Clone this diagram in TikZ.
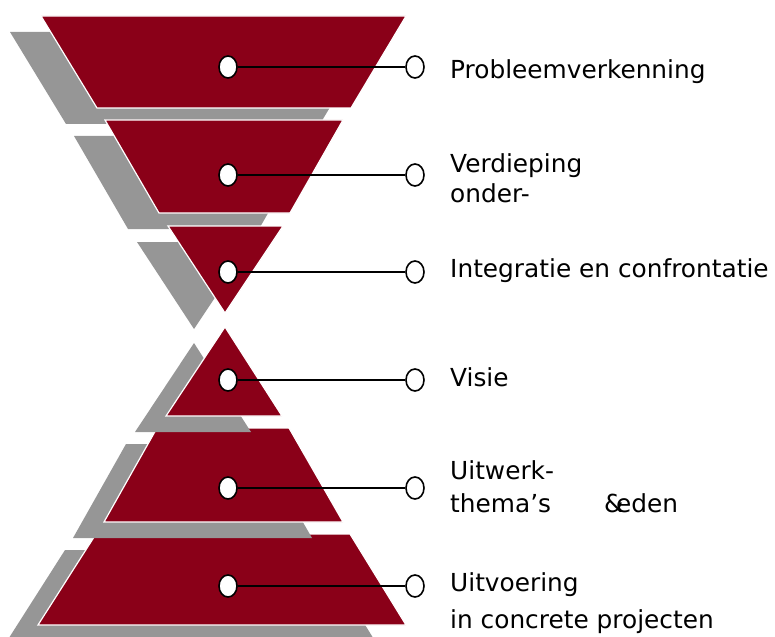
\documentclass[tikz,border=0pt]{standalone}
\usepackage{fontspec}
\setmainfont{DejaVu Sans}
\usetikzlibrary{shapes.geometric}
\definecolor{dkred}{RGB}{138,0,24}
\definecolor{shgrey}{RGB}{150,150,150}
\newcommand\lblfont{\fontsize{24.9pt}{30pt}\selectfont}
\tikzset{
  redpiece/.style={fill=dkred, draw=white, line width=1.2bp, line join=miter},
  shadowpiece/.style={fill=shgrey, shift={(-31,16)}},
  dotmark/.style={ellipse, draw=black, fill=white, line width=1.6bp,
    minimum width=18bp, minimum height=22bp, inner sep=0pt},
  conn/.style={draw=black, line width=1.3bp},
  lbl/.style={anchor=base west, font=\lblfont, inner sep=0pt, text=black}
}
\begin{document}
\begin{tikzpicture}[x=1bp,y=-1bp]
\useasboundingbox (0,0) rectangle (775,637);
\clip (0,0) rectangle (775,637);
% funnel (top to bottom)
\fill[shadowpiece] (41,16) -- (406,16) -- (351,108) -- (97,108) -- cycle;
\path[redpiece] (41,16) -- (406,16) -- (351,108) -- (97,108) -- cycle;
\fill[shadowpiece] (105,120) -- (343,120) -- (290,213) -- (159,213) -- cycle;
\path[redpiece] (105,120) -- (343,120) -- (290,213) -- (159,213) -- cycle;
\fill[shadowpiece] (168,226) -- (283,226) -- (225,313) -- cycle;
\path[redpiece] (168,226) -- (283,226) -- (225,313) -- cycle;
% pyramid (bottom to top)
\fill[shadowpiece] (96,534) -- (350,534) -- (406,625) -- (38,625) -- cycle;
\path[redpiece] (96,534) -- (350,534) -- (406,625) -- (38,625) -- cycle;
\fill[shadowpiece] (157,428) -- (289,428) -- (343,522) -- (104,522) -- cycle;
\path[redpiece] (157,428) -- (289,428) -- (343,522) -- (104,522) -- cycle;
\fill[shadowpiece] (225,327) -- (282,416) -- (166,416) -- cycle;
\path[redpiece] (225,327) -- (282,416) -- (166,416) -- cycle;
% markers
\foreach \n/\y in {1/67,2/175,3/272,4/380,5/488,6/586}{
  \node[dotmark] (l\n) at (228,\y) {};
  \node[dotmark] (r\n) at (415,\y) {};
  \draw[conn] (l\n) -- (r\n);
}
% labels
\node[lbl] (t1) at (450,79) {Probleemverkenning};
\node[lbl] (t2a) at (450,173) {Verdieping};
\node[lbl] (t2b) at (450,203) {onder-};
\node[lbl] (t3) at (450,277) {Integratie en confrontatie};
\node[lbl] (t4) at (450,386) {Visie};
\node[lbl] (t5a) at (450,479) {Uitwerk-};
\node[lbl] (t5b) at (450,512) {thema’s};
\node[lbl] (t5c) at (604,512) {\&\kern-0.3em eden};
\node[lbl] (t6a) at (450,591) {Uitvoering};
\node[lbl] (t6b) at (450,628) {in concrete projecten};
\end{tikzpicture}
\end{document}
